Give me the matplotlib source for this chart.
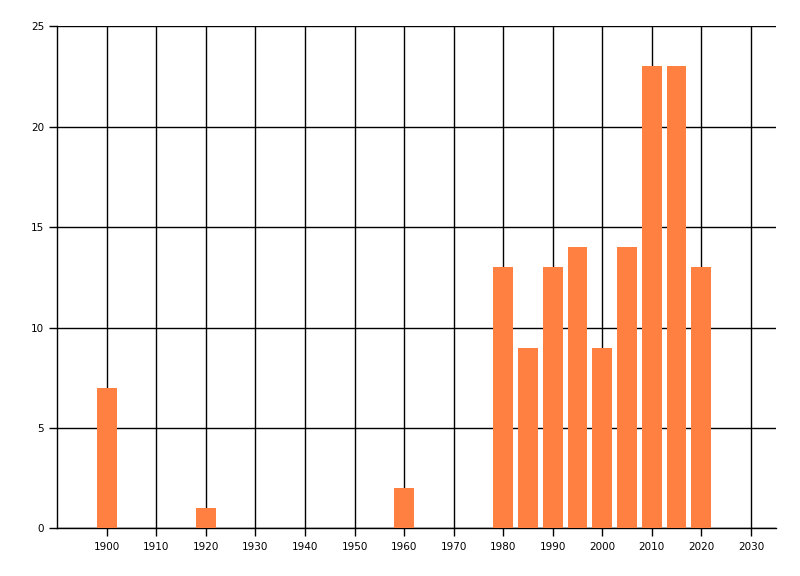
import matplotlib
matplotlib.use("Agg")
import matplotlib.pyplot as plt

years = [1900, 1920, 1960, 1980, 1985, 1990, 1995, 2000, 2005, 2010, 2015, 2020]
counts = [7, 1, 2, 13, 9, 13, 14, 9, 14, 23, 23, 13]
x_ticks = list(range(1900, 2031, 10))
y_ticks = [0, 5, 10, 15, 20, 25]

fig = plt.figure(figsize=(8, 5.76), dpi=100)
ax = fig.add_axes([0.0716, 0.0828, 0.8980, 0.8715])

ax.bar(years, counts, width=4, color="#FF8040", zorder=3)

ax.set_xlim(1890, 2035)
ax.set_ylim(0, 25)
ax.set_xticks(x_ticks)
ax.set_yticks(y_ticks)
ax.grid(True, color="black", linewidth=1.0, zorder=0)
ax.set_axisbelow(True)

for s in ("top", "right"):
    ax.spines[s].set_visible(False)
for s in ("left", "bottom"):
    ax.spines[s].set_linewidth(1.0)

ax.tick_params(axis="both", direction="out", length=6, width=1.0,
               labelsize=7.5, colors="black")

fig.savefig("out.png", dpi=100)
